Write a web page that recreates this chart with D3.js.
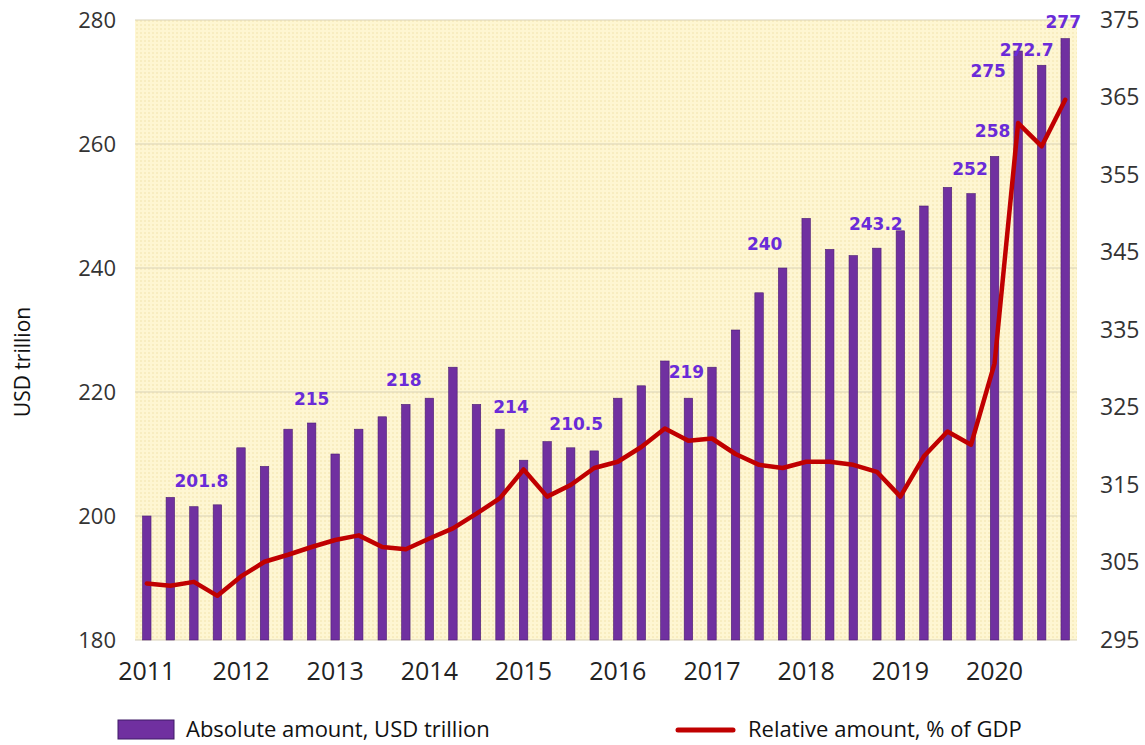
<!DOCTYPE html>
<html>
<head>
<meta charset="utf-8">
<script src="https://cdn.jsdelivr.net/npm/d3@7"></script>
<style>
  body { margin: 0; background: #fff; }
  svg text { font-family: "Open Sans", "DejaVu Sans", sans-serif; }
</style>
</head>
<body>
<div id="viz"></div>
<script>
// ---- data ----
const years = ["2011", "2012", "2013", "2014", "2015", "2016", "2017", "2018", "2019", "2020"];
const quarters = ["Q1", "Q2", "Q3", "Q4"];

// absolute amount, USD trillion (left axis), one per quarter
const absoluteAmount = [200, 203, 201.5, 201.8, 211, 208, 214, 215, 210, 214,
    216, 218, 219, 224, 218, 214, 209, 212, 211, 210.5,
    219, 221, 225, 219, 224, 230, 236, 240, 248, 243,
    242, 243.2, 246, 250, 253, 252, 258, 275, 272.7, 277];

// relative amount, % of GDP (right axis)
const relativeAmount = [302.3, 302.0, 302.5, 300.7, 303.2, 305.1, 306.0, 307.0, 307.9, 308.5,
    307.0, 306.7, 308.1, 309.4, 311.3, 313.3, 317.0, 313.5, 315.0, 317.2,
    318.0, 319.9, 322.3, 320.7, 321.0, 319.0, 317.6, 317.2, 318.0, 318.0,
    317.6, 316.7, 313.5, 318.7, 321.9, 320.2, 330.7, 361.7, 358.7, 364.7];

// annotated bars (index into the series) and their texts
const labelIndex = [3, 7, 11, 15, 19, 23, 27, 31, 35, 36, 37, 38, 39];
const labelText = ["201.8", "215", "218", "214", "210.5", "219", "240", "243.2", "252", "258", "275", "272.7", "277"];
// hand placement of the annotations, px from the bar top
const labelShift = [[-16, -18], [0, -18], [-2, -18], [11, -16], [-18, -21], [-2, -20], [-18, -18],
    [-1, -18], [-1, -19], [-2, -19], [-30, 26], [-15, -9], [-2, -11]];

const leftTicks = [180, 200, 220, 240, 260, 280];
const rightTicks = [295, 305, 315, 325, 335, 345, 355, 365, 375];

const periods = [];
years.forEach(y => quarters.forEach(q => periods.push(y + " " + q)));

// ---- layout ----
const W = 1145, H = 745;
const plot = { left: 135, right: 1077, top: 20, bottom: 640 };

const svg = d3.select("#viz").append("svg")
    .attr("width", W)
    .attr("height", H);

const defs = svg.append("defs");
const pat = defs.append("pattern")
    .attr("id", "dots")
    .attr("width", 4).attr("height", 4)
    .attr("patternUnits", "userSpaceOnUse");
pat.append("rect").attr("width", 4).attr("height", 4).attr("fill", "#fef6d2");
pat.append("rect").attr("width", 2).attr("height", 2).attr("fill", "#f8edc0");

const x = d3.scaleBand()
    .domain(periods)
    .range([plot.left, plot.right])
    .paddingInner(0.64)
    .paddingOuter(0.32);

const y = d3.scaleLinear().domain([180, 280]).range([plot.bottom, plot.top]);
const y2 = d3.scaleLinear().domain([295, 375]).range([plot.bottom, plot.top]);

const cx = i => x(periods[i]) + x.bandwidth() / 2;

// background
svg.append("rect")
    .attr("x", plot.left)
    .attr("y", plot.top)
    .attr("width", plot.right - plot.left)
    .attr("height", plot.bottom - plot.top)
    .attr("fill", "url(#dots)");

// gridlines
svg.append("g")
    .selectAll("line")
    .data(leftTicks)
    .enter()
    .append("line")
    .attr("x1", plot.left)
    .attr("x2", plot.right)
    .attr("y1", d => y(d))
    .attr("y2", d => y(d))
    .attr("stroke", "#d9d2b6")
    .attr("stroke-width", 1);

// bars
svg.append("g")
    .selectAll("rect")
    .data(absoluteAmount)
    .enter()
    .append("rect")
    .attr("x", (d, i) => x(periods[i]))
    .attr("y", d => y(d))
    .attr("width", x.bandwidth())
    .attr("height", d => y(180) - y(d))
    .attr("fill", "#7030a0")
    .attr("stroke", "#4a1c72")
    .attr("stroke-width", 0.6);

// relative amount line
const line = d3.line()
    .x((d, i) => cx(i))
    .y(d => y2(d));

svg.append("path")
    .datum(relativeAmount)
    .attr("d", line)
    .attr("fill", "none")
    .attr("stroke", "#c00000")
    .attr("stroke-width", 4.5)
    .attr("stroke-linejoin", "round")
    .attr("stroke-linecap", "round");

// bar annotations
svg.append("g")
    .selectAll("text")
    .data(labelIndex)
    .enter()
    .append("text")
    .attr("x", (d, k) => cx(d) + labelShift[k][0])
    .attr("y", (d, k) => y(absoluteAmount[d]) + labelShift[k][1])
    .attr("text-anchor", "middle")
    .style("font-family", "'DejaVu Sans', sans-serif")
    .style("font-weight", "bold")
    .style("font-size", "17px")
    .style("fill", "#6a2bd8")
    .text((d, k) => labelText[k]);

// left axis
const axisLeft = svg.append("g")
    .attr("transform", `translate(${plot.left}, 0)`)
    .call(d3.axisLeft(y).tickValues(leftTicks).tickSize(0).tickPadding(19));
axisLeft.select(".domain").remove();
axisLeft.selectAll("text")
    .style("font-family", "'Open Sans', sans-serif")
    .style("font-size", "22px")
    .style("fill", "#333");

// right axis
const axisRight = svg.append("g")
    .attr("transform", `translate(${plot.right}, 0)`)
    .call(d3.axisRight(y2).tickValues(rightTicks).tickSize(0).tickPadding(23));
axisRight.select(".domain").remove();
axisRight.selectAll("text")
    .style("font-family", "'Open Sans', sans-serif")
    .style("font-size", "23px")
    .style("fill", "#333");

// year labels under the first quarter of each year
const axisBottom = svg.append("g")
    .attr("transform", `translate(0, ${plot.bottom})`)
    .call(d3.axisBottom(x)
        .tickValues(years.map(yr => yr + " Q1"))
        .tickFormat(d => d.slice(0, 4))
        .tickSize(0)
        .tickPadding(22));
axisBottom.select(".domain").remove();
axisBottom.selectAll("text")
    .style("font-family", "'Open Sans', sans-serif")
    .style("font-size", "25px")
    .style("fill", "#222");

// y title
svg.append("text")
    .attr("transform", "translate(30, 362) rotate(-90)")
    .attr("text-anchor", "middle")
    .style("font-size", "21px")
    .style("fill", "#111")
    .text("USD trillion");

// legend
const legend = svg.append("g");
legend.append("rect")
    .attr("x", 118).attr("y", 720)
    .attr("width", 56).attr("height", 19)
    .attr("fill", "#7030a0")
    .attr("stroke", "#3f1a66");
legend.append("text")
    .attr("x", 186).attr("y", 737)
    .style("font-size", "22px")
    .style("fill", "#111")
    .text("Absolute amount, USD trillion");
legend.append("line")
    .attr("x1", 678).attr("x2", 733)
    .attr("y1", 730).attr("y2", 730)
    .attr("stroke", "#c00000")
    .attr("stroke-width", 5)
    .attr("stroke-linecap", "round");
legend.append("text")
    .attr("x", 748).attr("y", 737)
    .style("font-size", "22px")
    .style("fill", "#111")
    .text("Relative amount, % of GDP");
</script>
</body>
</html>
